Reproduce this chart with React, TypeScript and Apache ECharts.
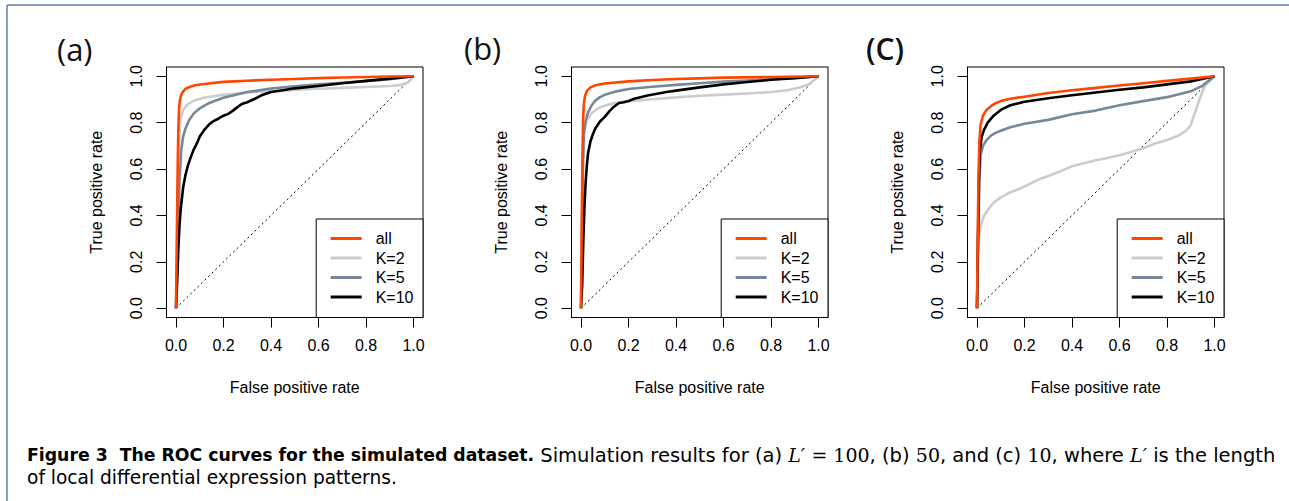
import React, { useEffect, useRef } from 'react';
import * as echarts from 'echarts';

// ---------- data ----------
const TICK_VALUES = [0, 0.2, 0.4, 0.6, 0.8, 1.0];
const TICK_LABELS = ['0.0', '0.2', '0.4', '0.6', '0.8', '1.0'];
const SERIES_NAMES = ['all', 'K=2', 'K=5', 'K=10'];
const PANEL_LABELS = ['(a)', '(b)', '(C)'];
const X_TITLE = 'False positive rate';
const Y_TITLE = 'True positive rate';
const DIAGONAL: [number, number][] = [[0, 0], [1, 1]];

// Panel (a)
const A_ALL: [number, number][] = [[0,0],[0.004,0.35],[0.007,0.6],[0.01,0.78],[0.013,0.86],[0.017,0.9],[0.022,0.92],[0.03,0.935],[0.04,0.946],[0.06,0.955],[0.08,0.961],[0.12,0.967],[0.2,0.976],[0.3,0.981],[0.4,0.985],[0.5,0.988],[0.6,0.992],[0.7,0.995],[0.8,0.997],[0.9,0.999],[1,1]];
const A_K2: [number, number][] = [[0,0],[0.005,0.3],[0.01,0.6],[0.015,0.76],[0.02,0.82],[0.03,0.855],[0.05,0.88],[0.08,0.897],[0.12,0.908],[0.2,0.92],[0.3,0.93],[0.4,0.936],[0.5,0.941],[0.6,0.946],[0.7,0.95],[0.8,0.954],[0.9,0.958],[0.95,0.963],[0.98,0.975],[1,1]];
const A_K5: [number, number][] = [[0,0],[0.008,0.3],[0.015,0.55],[0.022,0.68],[0.03,0.74],[0.04,0.775],[0.055,0.81],[0.075,0.84],[0.1,0.862],[0.14,0.885],[0.2,0.907],[0.3,0.932],[0.4,0.947],[0.5,0.957],[0.6,0.965],[0.7,0.972],[0.8,0.979],[0.9,0.987],[1,1]];
const A_K10: [number, number][] = [[0,0],[0.005,0.12],[0.01,0.26],[0.015,0.36],[0.02,0.43],[0.03,0.52],[0.04,0.575],[0.05,0.615],[0.06,0.645],[0.075,0.685],[0.09,0.715],[0.1,0.74],[0.12,0.77],[0.14,0.793],[0.16,0.808],[0.18,0.818],[0.2,0.83],[0.22,0.838],[0.24,0.852],[0.26,0.868],[0.28,0.882],[0.3,0.888],[0.33,0.902],[0.36,0.918],[0.4,0.932],[0.45,0.94],[0.5,0.948],[0.6,0.958],[0.7,0.97],[0.8,0.98],[0.9,0.99],[1,1]];

// Panel (b)
const B_ALL: [number, number][] = [[0,0],[0.003,0.35],[0.006,0.65],[0.009,0.82],[0.012,0.88],[0.017,0.915],[0.025,0.937],[0.04,0.952],[0.06,0.961],[0.1,0.969],[0.2,0.978],[0.3,0.984],[0.4,0.988],[0.5,0.991],[0.6,0.994],[0.8,0.997],[1,1]];
const B_K2: [number, number][] = [[0,0],[0.004,0.35],[0.008,0.65],[0.012,0.75],[0.02,0.795],[0.03,0.82],[0.045,0.842],[0.065,0.857],[0.09,0.87],[0.13,0.882],[0.2,0.892],[0.3,0.901],[0.4,0.909],[0.5,0.916],[0.6,0.921],[0.7,0.926],[0.8,0.932],[0.87,0.94],[0.92,0.952],[0.96,0.966],[1,1]];
const B_K5: [number, number][] = [[0,0],[0.004,0.3],[0.008,0.6],[0.012,0.75],[0.02,0.81],[0.03,0.845],[0.045,0.875],[0.06,0.895],[0.08,0.91],[0.1,0.92],[0.15,0.935],[0.2,0.945],[0.3,0.955],[0.4,0.963],[0.5,0.97],[0.6,0.977],[0.7,0.982],[0.8,0.987],[0.9,0.993],[1,1]];
const B_K10: [number, number][] = [[0,0],[0.005,0.1],[0.01,0.3],[0.015,0.45],[0.02,0.55],[0.025,0.62],[0.03,0.67],[0.04,0.72],[0.05,0.75],[0.06,0.775],[0.08,0.805],[0.1,0.825],[0.12,0.85],[0.14,0.87],[0.16,0.885],[0.18,0.888],[0.2,0.893],[0.22,0.902],[0.25,0.91],[0.28,0.917],[0.32,0.925],[0.36,0.932],[0.4,0.938],[0.5,0.952],[0.6,0.965],[0.7,0.975],[0.8,0.985],[0.9,0.992],[1,1]];

// Panel (c)
const C_ALL: [number, number][] = [[0,0],[0.003,0.3],[0.006,0.55],[0.01,0.72],[0.015,0.79],[0.025,0.83],[0.04,0.855],[0.06,0.872],[0.08,0.885],[0.1,0.893],[0.14,0.903],[0.2,0.912],[0.3,0.928],[0.4,0.94],[0.5,0.95],[0.6,0.96],[0.7,0.97],[0.8,0.98],[0.9,0.99],[1,1]];
const C_K2: [number, number][] = [[0,0],[0.002,0.15],[0.005,0.26],[0.01,0.32],[0.02,0.37],[0.03,0.4],[0.05,0.43],[0.07,0.455],[0.1,0.478],[0.14,0.5],[0.18,0.515],[0.22,0.535],[0.26,0.555],[0.3,0.57],[0.35,0.59],[0.4,0.612],[0.45,0.625],[0.5,0.638],[0.55,0.648],[0.6,0.66],[0.65,0.675],[0.7,0.69],[0.75,0.71],[0.8,0.725],[0.85,0.745],[0.88,0.765],[0.9,0.79],[0.92,0.85],[0.94,0.91],[0.96,0.96],[1,1]];
const C_K5: [number, number][] = [[0,0],[0.005,0.3],[0.01,0.55],[0.015,0.66],[0.025,0.7],[0.04,0.725],[0.06,0.745],[0.08,0.757],[0.1,0.765],[0.14,0.78],[0.2,0.795],[0.3,0.812],[0.4,0.836],[0.5,0.852],[0.6,0.875],[0.7,0.893],[0.8,0.91],[0.9,0.935],[0.95,0.96],[1,1]];
const C_K10: [number, number][] = [[0,0],[0.004,0.3],[0.008,0.55],[0.012,0.68],[0.02,0.74],[0.03,0.77],[0.045,0.8],[0.07,0.83],[0.1,0.855],[0.14,0.875],[0.2,0.89],[0.3,0.905],[0.4,0.918],[0.5,0.93],[0.6,0.942],[0.7,0.952],[0.8,0.965],[0.9,0.978],[1,1]];

const PANELS = [
  { all: A_ALL, k2: A_K2, k5: A_K5, k10: A_K10 },
  { all: B_ALL, k2: B_K2, k5: B_K5, k10: B_K10 },
  { all: C_ALL, k2: C_K2, k5: C_K5, k10: C_K10 },
];

// ---------- style ----------
const COLORS: Record<string, string> = { all: '#ff4500', 'K=2': '#cccccc', 'K=5': '#778899', 'K=10': '#000000' };
const FONT = 'Liberation Sans, Arial, sans-serif';
const GRID_LEFTS = [166.5, 571.5, 967.5];
const GRID_TOP = 67;
const GRID_W = 256.5;
const GRID_H = 250.5;
const LABEL_POS = [[57, 49], [464, 48], [866, 48]];

const tickLabel = (v: number) => {
  const i = TICK_VALUES.findIndex((t) => Math.abs(t - v) < 1e-6);
  return i >= 0 ? TICK_LABELS[i] : v.toFixed(1);
};

function buildOption() {
  const grid = GRID_LEFTS.map((l) => ({
    left: l, top: GRID_TOP, width: GRID_W, height: GRID_H,
    show: true, borderColor: '#000', borderWidth: 1, backgroundColor: 'transparent',
  }));
  const axisCommon = (i: number, name: string, isY: boolean) => ({
    gridIndex: i,
    type: 'value',
    min: -0.04,
    max: 1.04,
    name,
    nameLocation: 'middle',
    nameGap: isY ? 62 : 62,
    nameTextStyle: { fontSize: 16, fontFamily: FONT, color: '#000' },
    axisLine: { show: true, onZero: false, lineStyle: { color: '#000', width: 1 } },
    axisTick: { show: true, length: 10, customValues: TICK_VALUES, lineStyle: { color: '#000', width: 1 } },
    axisLabel: {
      show: true, customValues: TICK_VALUES, formatter: tickLabel,
      margin: isY ? 22 : 20, rotate: isY ? 90 : 0,
      fontSize: 16, fontFamily: FONT, color: '#000',
    },
    splitLine: { show: false },
  });
  const xAxis = GRID_LEFTS.map((_, i) => axisCommon(i, X_TITLE, false));
  const yAxis = GRID_LEFTS.map((_, i) => axisCommon(i, Y_TITLE, true));

  const series: any[] = [];
  PANELS.forEach((p, i) => {
    series.push({
      type: 'line', name: 'diagonal-' + i, xAxisIndex: i, yAxisIndex: i,
      data: DIAGONAL, showSymbol: false, silent: true,
      lineStyle: { color: '#000', width: 1, type: [2, 3] }, color: '#000',
    });
    const order: [string, [number, number][]][] = [
      ['K=2', p.k2], ['K=5', p.k5], ['K=10', p.k10], ['all', p.all],
    ];
    order.forEach(([name, data]) => {
      series.push({
        type: 'line', name, xAxisIndex: i, yAxisIndex: i, data,
        showSymbol: false, symbol: 'none', color: COLORS[name],
        lineStyle: { color: COLORS[name], width: 2.6, join: 'round' },
      });
    });
  });

  const legend = GRID_LEFTS.map((l) => ({
    data: SERIES_NAMES,
    orient: 'vertical',
    right: 1289 - (l + GRID_W),
    top: 219,
    padding: [11.5, 9.5, 12.5, 14.5],
    itemWidth: 31,
    itemHeight: 3,
    itemGap: 3.5,
    icon: 'rect',
    backgroundColor: '#fff',
    borderColor: '#000',
    borderWidth: 1,
    borderRadius: 0,
    selectedMode: false,
    formatter: (name: string) => `{t|${name}}`,
    textStyle: {
      fontSize: 16, fontFamily: FONT, color: '#000', lineHeight: 16,
      rich: { t: { fontSize: 16, fontFamily: FONT, color: '#000', padding: [0, 0, 0, 9], lineHeight: 16 } },
    },
  }));

  const graphic: any[] = [
    { type: 'line', shape: { x1: 7, y1: 5, x2: 1289, y2: 5 }, style: { stroke: '#8a9dbb', lineWidth: 2 }, silent: true },
    { type: 'line', shape: { x1: 7, y1: 5, x2: 7, y2: 501 }, style: { stroke: '#8a9dbb', lineWidth: 2 }, silent: true },
  ];
  PANEL_LABELS.forEach((t, i) => {
    graphic.push({
      type: 'text', x: LABEL_POS[i][0], y: LABEL_POS[i][1],
      style: {
        text: t, fill: '#111', fontSize: i === 2 ? 30 : 31, fontWeight: i === 2 ? 600 : 400,
        fontFamily: 'Open Sans, sans-serif',
        align: 'left', verticalAlign: 'middle', textAlign: 'left', textVerticalAlign: 'middle',
      },
    });
  });
  const capRich = {
    b: { fontFamily: 'DejaVu Sans, sans-serif', fontWeight: 'bold', fontSize: 17.3, fill: '#000', color: '#000' },
    i: { fontFamily: 'DejaVu Serif, serif', fontStyle: 'italic', fontSize: 19, fill: '#000', color: '#000' },
    m: { fontFamily: 'DejaVu Serif, serif', fontSize: 19, fill: '#000', color: '#000' },
    n: { fontFamily: 'DejaVu Sans, sans-serif', fontSize: 19.5, fill: '#000', color: '#000' },
  };
  graphic.push({
    type: 'text', x: 27, y: 455,
    style: {
      text: '{b|Figure 3  The ROC curves for the simulated dataset.}{n| Simulation results for (a) }{i|L′}{n| }{m|= 100}{n|, (b) }{m|50}{n|, and (c) }{m|10}{n|, where }{i|L′}{n| is the length}',
      rich: capRich, fill: '#000', fontSize: 19.5, fontFamily: 'DejaVu Sans, sans-serif',
      align: 'left', verticalAlign: 'middle', textAlign: 'left', textVerticalAlign: 'middle',
    },
  });
  graphic.push({
    type: 'text', x: 27, y: 477,
    style: {
      text: 'of local differential expression patterns.',
      fill: '#000', fontSize: 18.6, fontFamily: 'DejaVu Sans, sans-serif',
      align: 'left', verticalAlign: 'middle', textAlign: 'left', textVerticalAlign: 'middle',
    },
  });

  return {
    animation: false,
    backgroundColor: '#fff',
    grid, xAxis, yAxis, series, legend, graphic,
  };
}

export default function App() {
  const ref = useRef<HTMLDivElement>(null);
  useEffect(() => {
    if (!ref.current) return;
    const chart = echarts.init(ref.current, undefined, { renderer: 'svg' });
    chart.setOption(buildOption() as any);
    return () => chart.dispose();
  }, []);
  return <div ref={ref} style={{ position: 'fixed', left: 0, top: 0, width: 1289, height: 501, background: '#fff' }} />;
}
